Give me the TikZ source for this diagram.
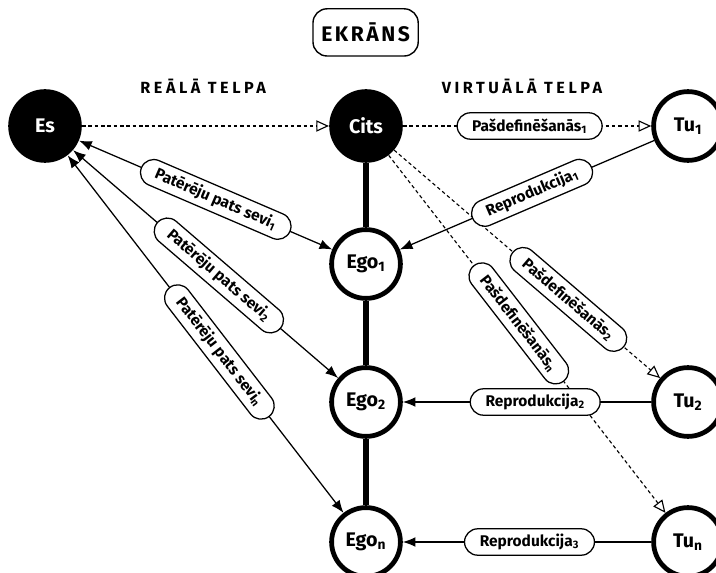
\documentclass[tikz,border=0pt]{standalone}
\usepackage{fontspec}
\setmainfont{Fira Sans}
\usetikzlibrary{arrows.meta,shapes.misc}

\tikzset{
  person/.style={circle, minimum size=1.84cm, inner sep=0pt,
    font=\fontsize{14}{16}\selectfont\bfseries},
  self/.style={person, fill=black, text=white},
  role/.style={person, draw, line width=3.4pt, minimum size=1.72cm},
  tag/.style={rounded rectangle, draw, solid, fill=white, line width=0.9pt,
    inner xsep=9pt, minimum height=0.66cm,
    font=\fontsize{11}{13}\selectfont\bfseries},
  consume/.style={line width=0.9pt,
    {Latex[length=9pt,width=7pt]}-{Latex[length=9pt,width=7pt]}},
  reproduce/.style={line width=0.9pt, -{Latex[length=9pt,width=7pt]}},
  define/.style={line width=0.8pt, dash pattern=on 2.5pt off 2pt,
    -{Triangle[open,length=9pt,width=8pt]}},
  bond/.style={line width=4pt},
  heading/.style={font=\fontsize{11.5}{13}\selectfont\bfseries\addfontfeatures{LetterSpace=22}}
}

\begin{document}
\begin{tikzpicture}
    \useasboundingbox (0,0) rectangle (17.9,-14.325);

    % screen and the two spaces
    \node [draw, line width=1pt, rounded corners=10pt, minimum width=2.63cm,
        minimum height=1.18cm, font=\fontsize{15}{17}\selectfont\bfseries\addfontfeatures{LetterSpace=12}]
        (screen) at (9.14,-0.81) {EKRĀNS};
    \node [heading] (real) at (5.08,-2.15) {REĀLĀ TELPA};
    \node [heading] (virtual) at (13.05,-2.17) {VIRTUĀLĀ TELPA};

    % persons
    \node [self] (es) at (1.125,-3.15) {Es};
    \node [self] (cits) at (9.15,-3.15) {Cits};
    \node [role] (tu1) at (17.2,-3.15) {Tu\textsubscript{1}};
    \node [role] (tu2) at (17.2,-10.05) {Tu\textsubscript{2}};
    \node [role] (tun) at (17.2,-13.55) {Tu\textsubscript{n}};
    \node [role] (ego1) at (9.15,-6.6) {Ego\textsubscript{1}};
    \node [role] (ego2) at (9.15,-10.05) {Ego\textsubscript{2}};
    \node [role] (egon) at (9.15,-13.55) {Ego\textsubscript{n}};

    % chain of selves
    \draw [bond] (cits) -- (ego1);
    \draw [bond] (ego1) -- (ego2);
    \draw [bond] (ego2) -- (egon);

    % self definition
    \draw [define] (es) -- (cits);
    \draw [define] (cits) -- node [tag, pos=0.51] (def1) {Pašdefinēšanās\textsubscript{1}} (tu1);
    \draw [define] (cits) -- node [tag, sloped, pos=0.655] (def2) {Pašdefinēšanās\textsubscript{2}} (tu2);
    \draw [define] (cits) -- node [tag, sloped, pos=0.47] (defn) {Pašdefinēšanās\textsubscript{n}} (tun);

    % reproduction
    \draw [reproduce] (tu1) -- node [tag, sloped, pos=0.48] (rep1) {Reprodukcija\textsubscript{1}} (ego1);
    \draw [reproduce] (tu2) -- node [tag, pos=0.467] (rep2) {Reprodukcija\textsubscript{2}} (ego2);
    \draw [reproduce] (tun) -- node [tag, pos=0.49] (rep3) {Reprodukcija\textsubscript{3}} (egon);

    % consuming oneself
    \draw [consume] (es) -- node [tag, sloped, pos=0.54] (con1) {Patērēju pats sevi\textsubscript{1}} (ego1);
    \draw [consume] (es) -- node [tag, sloped, pos=0.55] (con2) {Patērēju pats sevi\textsubscript{2}} (ego2);
    \draw [consume] (es) -- node [tag, sloped, pos=0.55] (conn) {Patērēju pats sevi\textsubscript{n}} (egon);
\end{tikzpicture}
\end{document}
